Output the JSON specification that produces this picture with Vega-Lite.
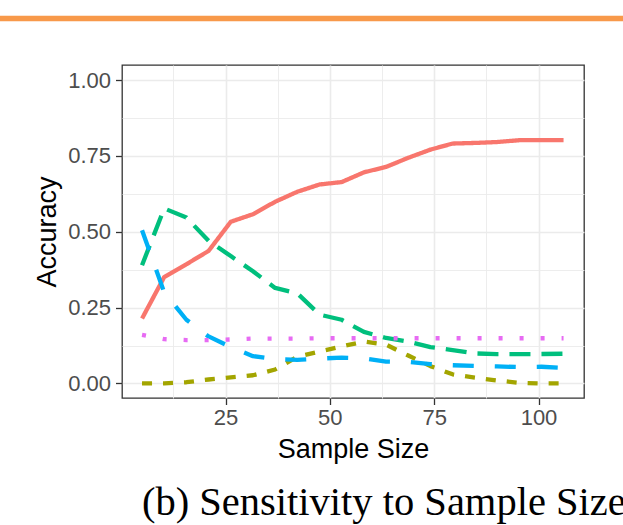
{
  "$schema": "https://vega.github.io/schema/vega-lite/v6.json",
  "width": 462,
  "height": 333,
  "autosize": "none",
  "padding": {"left": 122, "top": 65, "right": 39, "bottom": 127},
  "background": "white",
  "config": {
    "view": {"stroke": "#333333", "strokeWidth": 1.3},
    "font": "Liberation Sans"
  },
  "title": {
    "text": "(b) Sensitivity to Sample Size",
    "orient": "bottom",
    "anchor": "start",
    "frame": "group",
    "font": "Liberation Serif",
    "fontSize": 40.5,
    "fontWeight": "normal",
    "color": "#000000",
    "baseline": "top",
    "offset": 20,
    "dx": 20
  },
  "data": {
    "values": [
      {"n": 5, "A": 0.214, "B": 0.0, "C": 0.39, "D": 0.505, "E": 0.16},
      {"n": 10.32, "A": 0.351, "B": 0.0, "C": 0.577, "D": 0.3, "E": 0.146},
      {"n": 15.63, "A": 0.393, "B": 0.004, "C": 0.547, "D": 0.21, "E": 0.143},
      {"n": 20.95, "A": 0.437, "B": 0.013, "C": 0.47, "D": 0.155, "E": 0.143},
      {"n": 26.26, "A": 0.533, "B": 0.02, "C": 0.42, "D": 0.12, "E": 0.145},
      {"n": 31.58, "A": 0.558, "B": 0.027, "C": 0.37, "D": 0.09, "E": 0.148},
      {"n": 36.89, "A": 0.599, "B": 0.046, "C": 0.315, "D": 0.08, "E": 0.148},
      {"n": 42.21, "A": 0.632, "B": 0.088, "C": 0.297, "D": 0.078, "E": 0.148},
      {"n": 47.53, "A": 0.656, "B": 0.105, "C": 0.227, "D": 0.082, "E": 0.149},
      {"n": 52.84, "A": 0.664, "B": 0.122, "C": 0.21, "D": 0.085, "E": 0.149},
      {"n": 58.16, "A": 0.696, "B": 0.138, "C": 0.17, "D": 0.083, "E": 0.149},
      {"n": 63.47, "A": 0.714, "B": 0.128, "C": 0.15, "D": 0.072, "E": 0.149},
      {"n": 68.79, "A": 0.744, "B": 0.092, "C": 0.138, "D": 0.071, "E": 0.149},
      {"n": 74.11, "A": 0.771, "B": 0.057, "C": 0.12, "D": 0.064, "E": 0.149},
      {"n": 79.42, "A": 0.791, "B": 0.03, "C": 0.11, "D": 0.06, "E": 0.149},
      {"n": 84.74, "A": 0.793, "B": 0.019, "C": 0.099, "D": 0.058, "E": 0.149},
      {"n": 90.05, "A": 0.796, "B": 0.01, "C": 0.097, "D": 0.056, "E": 0.149},
      {"n": 95.37, "A": 0.802, "B": 0.002, "C": 0.097, "D": 0.054, "E": 0.149},
      {"n": 100.68, "A": 0.802, "B": 0.0, "C": 0.097, "D": 0.055, "E": 0.149},
      {"n": 106, "A": 0.802, "B": 0.0, "C": 0.098, "D": 0.051, "E": 0.149}
    ]
  },
  "layer": [
    {
      "transform": [{"fold": ["A", "B", "C", "D", "E"], "as": ["method", "acc"]}],
      "mark": {"type": "line", "opacity": 0},
      "encoding": {
        "x": {
          "field": "n", "type": "quantitative",
          "scale": {"domain": [0.2, 110.9], "nice": false, "zero": false},
          "axis": {"orient": "bottom", "values": [12.5, 37.5, 62.5, 87.5], "grid": true, "gridColor": "#EBEBEB", "gridWidth": 0.9, "labels": false, "ticks": false, "domain": false, "title": null}
        },
        "y": {
          "field": "acc", "type": "quantitative",
          "scale": {"domain": [-0.048, 1.05], "nice": false, "zero": false},
          "axis": {"orient": "left", "values": [0.125, 0.375, 0.625, 0.875], "grid": true, "gridColor": "#EBEBEB", "gridWidth": 0.9, "labels": false, "ticks": false, "domain": false, "title": null}
        },
        "detail": {"field": "method"}
      }
    },
    {
      "transform": [{"fold": ["A", "B", "C", "D", "E"], "as": ["method", "acc"]}],
      "mark": {"type": "line", "strokeWidth": 4.3, "strokeCap": "butt", "strokeJoin": "round"},
      "encoding": {
        "x": {
          "field": "n", "type": "quantitative",
          "scale": {"domain": [0.2, 110.9], "nice": false, "zero": false},
          "axis": {
            "orient": "bottom", "values": [25, 50, 75, 100], "grid": true, "gridColor": "#EBEBEB", "gridWidth": 1.6,
            "domain": false, "ticks": true, "tickColor": "#333333", "tickWidth": 1.3, "tickSize": 6.5,
            "labelFont": "Liberation Sans", "labelFontSize": 22, "labelColor": "#4D4D4D", "labelPadding": 3,
            "title": "Sample Size", "titleFont": "Liberation Sans", "titleFontSize": 27, "titleFontWeight": "normal", "titleColor": "#000000", "titlePadding": 8
          }
        },
        "y": {
          "field": "acc", "type": "quantitative",
          "scale": {"domain": [-0.048, 1.05], "nice": false, "zero": false},
          "axis": {
            "orient": "left", "values": [0, 0.25, 0.5, 0.75, 1], "format": ".2f", "grid": true, "gridColor": "#EBEBEB", "gridWidth": 1.6,
            "domain": false, "ticks": true, "tickColor": "#333333", "tickWidth": 1.3, "tickSize": 6.5,
            "labelFont": "Liberation Sans", "labelFontSize": 22, "labelColor": "#4D4D4D", "labelPadding": 5,
            "title": "Accuracy", "titleFont": "Liberation Sans", "titleFontSize": 27, "titleFontWeight": "normal", "titleColor": "#000000", "titlePadding": 6
          }
        },
        "color": {
          "field": "method", "type": "nominal",
          "scale": {"domain": ["A", "B", "C", "D", "E"], "range": ["#F8766D", "#A3A500", "#00BF7D", "#00B0F6", "#E76BF3"]},
          "legend": null
        },
        "strokeDash": {
          "field": "method", "type": "nominal",
          "scale": {"domain": ["A", "B", "C", "D", "E"], "range": [[1, 0], [10, 11], [21, 11], [21, 21], [4, 17]]},
          "legend": null
        }
      }
    },
    {
      "data": {"values": [{"k": 1}]},
      "mark": {"type": "rule", "color": "#F8994A", "strokeWidth": 5.5},
      "encoding": {
        "x": {"datum": -60, "type": "quantitative", "scale": {"domain": [0.2, 110.9], "nice": false, "zero": false}, "axis": null},
        "x2": {"datum": 170},
        "y": {"datum": 1.2033, "type": "quantitative", "scale": {"domain": [-0.048, 1.05], "nice": false, "zero": false}, "axis": null}
      }
    }
  ],
  "resolve": {"axis": {"x": "independent", "y": "independent"}}
}
